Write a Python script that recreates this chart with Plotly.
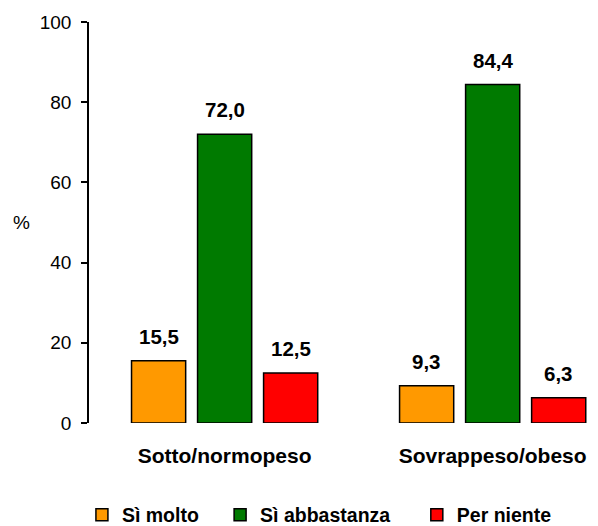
import plotly.graph_objects as go

categories = ["Sotto/normopeso", "Sovrappeso/obeso"]
series_names = ["Sì molto", "Sì abbastanza", "Per niente"]
si_molto = [15.5, 9.3]
si_abbastanza = [72.0, 84.4]
per_niente = [12.5, 6.3]
colors = ["#FF9900", "#007A00", "#FF0000"]
y_ticks = [0, 20, 40, 60, 80, 100]

FONT = "Arial, Liberation Sans, sans-serif"
BARGAP = 0.261
series = [si_molto, si_abbastanza, per_niente]
# extra trailing space after each legend entry (non-breaking, so it is kept)
legend_pad = [3, 4, 0]

fig = go.Figure()
for name, vals, col, pad in zip(series_names, series, colors, legend_pad):
    fig.add_trace(go.Bar(
        x=categories, y=vals, name=name + "\u00a0" * pad,
        marker=dict(color=col, line=dict(color="black", width=1.5)),
    ))

# value labels above each bar, placed at the bar's slot within its group
slot = (1 - BARGAP) / len(series)
for k, vals in enumerate(series):
    for ci, v in enumerate(vals):
        fig.add_annotation(
            x=ci + (k - (len(series) - 1) / 2) * slot, y=v,
            xref="x", yref="y", yanchor="bottom", yshift=11,
            text=f"{v:.1f}".replace(".", ","), showarrow=False,
            font=dict(family=FONT, size=20.5, color="black", weight="bold"),
        )

fig.update_layout(
    width=598, height=526,
    margin=dict(l=89, r=0, t=22, b=103, autoexpand=False),
    paper_bgcolor="white", plot_bgcolor="white",
    barmode="group", bargap=BARGAP, bargroupgap=0.18,
    showlegend=True,
    legend=dict(
        orientation="h", xref="container", x=0.137, xanchor="left",
        yref="container", y=0.021, yanchor="middle",
        font=dict(family=FONT, size=19.5, color="black", weight="bold"),
        itemwidth=30, traceorder="normal",
    ),
)

fig.update_xaxes(
    type="category", range=[-0.506, 1.393], automargin=False,
    showline=False, showgrid=False, zeroline=False,
    ticks="", ticklabelstandoff=18,
    tickfont=dict(family=FONT, size=21, color="black", weight="bold"),
)
fig.update_yaxes(
    range=[0, 100], tickvals=y_ticks, automargin=False,
    showline=True, linecolor="black", linewidth=1.5,
    ticks="outside", ticklen=6, tickwidth=1.5, tickcolor="black",
    ticklabelstandoff=6,
    showgrid=False, zeroline=False,
    tickfont=dict(family=FONT, size=19, color="black"),
)

fig.add_annotation(
    text="%", xref="paper", yref="paper", x=-0.132, y=0.5,
    xanchor="center", yanchor="middle",
    showarrow=False, font=dict(family=FONT, size=19, color="black"),
)

fig.write_html("out.html")
